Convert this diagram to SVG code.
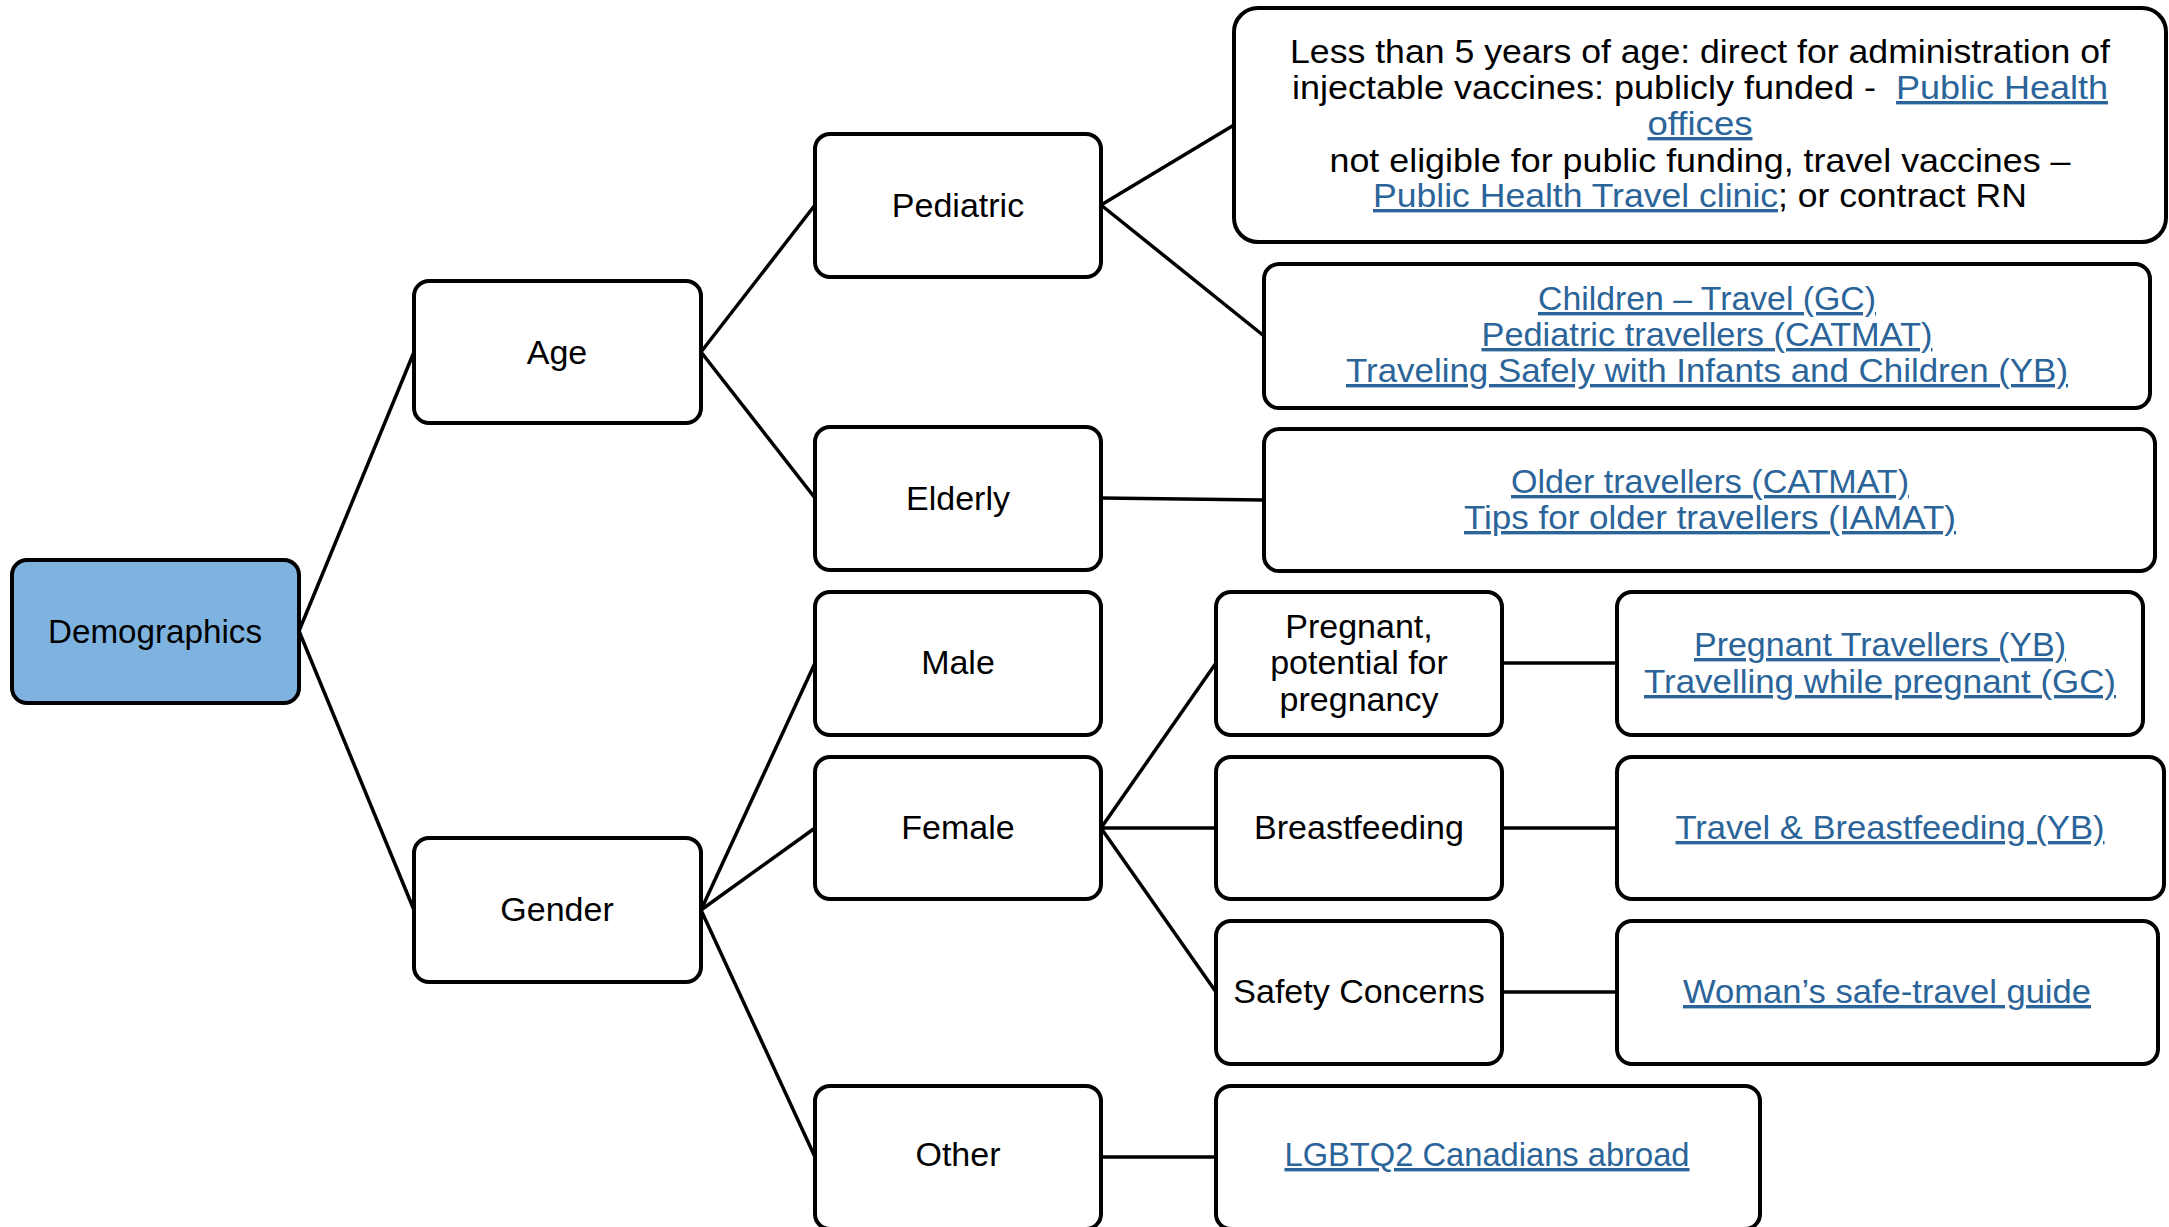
<svg xmlns="http://www.w3.org/2000/svg" width="2169" height="1227" viewBox="0 0 2169 1227">
<style>
.box{fill:#fff;stroke:#000;stroke-width:4}
.root{fill:#7EB3DF}
.t{font-family:"Liberation Sans",Arial,sans-serif;font-size:34px;fill:#000;text-anchor:middle}
.lk{fill:#2B6499;text-decoration:underline}
.c{stroke:#000;stroke-width:3.5;fill:none}
</style>
<rect width="2169" height="1227" fill="#fff"/>
<g id="connectors">
<line class="c" x1="299" y1="631" x2="414" y2="352"/>
<line class="c" x1="299" y1="631" x2="414" y2="910"/>
<line class="c" x1="701" y1="352" x2="815" y2="205"/>
<line class="c" x1="701" y1="352" x2="815" y2="498"/>
<line class="c" x1="1101" y1="205" x2="1234" y2="125"/>
<line class="c" x1="1101" y1="205" x2="1264" y2="336"/>
<line class="c" x1="1101" y1="498" x2="1264" y2="500"/>
<line class="c" x1="701" y1="910" x2="815" y2="663"/>
<line class="c" x1="701" y1="910" x2="815" y2="828"/>
<line class="c" x1="701" y1="910" x2="815" y2="1157"/>
<line class="c" x1="1101" y1="828" x2="1216" y2="663"/>
<line class="c" x1="1101" y1="828" x2="1216" y2="828"/>
<line class="c" x1="1101" y1="828" x2="1216" y2="992"/>
<line class="c" x1="1502" y1="663" x2="1617" y2="663"/>
<line class="c" x1="1502" y1="828" x2="1617" y2="828"/>
<line class="c" x1="1502" y1="992" x2="1617" y2="992"/>
<line class="c" x1="1101" y1="1157" x2="1216" y2="1157"/>
</g>
<g id="demographics">
<rect class="box root" x="12" y="560" width="287" height="143" rx="15"/>
<text class="t" x="155" y="643" textLength="214" lengthAdjust="spacingAndGlyphs">Demographics</text>
</g>
<g id="age">
<rect class="box" x="414" y="281" width="287" height="142" rx="15"/>
<text class="t" x="557" y="364">Age</text>
</g>
<g id="gender">
<rect class="box" x="414" y="838" width="287" height="144" rx="15"/>
<text class="t" x="557" y="921">Gender</text>
</g>
<g id="pediatric">
<rect class="box" x="815" y="134" width="286" height="143" rx="15"/>
<text class="t" x="958" y="217">Pediatric</text>
</g>
<g id="elderly">
<rect class="box" x="815" y="427" width="286" height="143" rx="15"/>
<text class="t" x="958" y="510">Elderly</text>
</g>
<g id="male">
<rect class="box" x="815" y="592" width="286" height="143" rx="15"/>
<text class="t" x="958" y="674">Male</text>
</g>
<g id="female">
<rect class="box" x="815" y="757" width="286" height="142" rx="15"/>
<text class="t" x="958" y="839">Female</text>
</g>
<g id="other">
<rect class="box" x="815" y="1086" width="286" height="143" rx="15"/>
<text class="t" x="958" y="1166">Other</text>
</g>
<g id="pediatric-info">
<rect class="box" x="1234" y="8" width="932" height="234" rx="24"/>
<text class="t" x="1700" y="63" textLength="820" lengthAdjust="spacingAndGlyphs">Less than 5 years of age: direct for administration of</text>
<text class="t" x="1700" y="99" xml:space="preserve" textLength="816" lengthAdjust="spacingAndGlyphs">injectable vaccines: publicly funded -  <tspan class="lk">Public Health</tspan></text>
<text class="t lk" x="1700" y="135" textLength="105" lengthAdjust="spacingAndGlyphs">offices</text>
<text class="t" x="1700" y="172" textLength="741" lengthAdjust="spacingAndGlyphs">not eligible for public funding, travel vaccines –</text>
<text class="t" x="1700" y="207" textLength="654" lengthAdjust="spacingAndGlyphs"><tspan class="lk">Public Health Travel clinic</tspan>; or contract RN</text>
</g>
<g id="pediatric-links">
<rect class="box" x="1264" y="264" width="886" height="144" rx="15"/>
<text class="t lk" x="1707" y="310" textLength="338" lengthAdjust="spacingAndGlyphs">Children – Travel (GC)</text>
<text class="t lk" x="1707" y="346" textLength="451" lengthAdjust="spacingAndGlyphs">Pediatric travellers (CATMAT)</text>
<text class="t lk" x="1707" y="382" textLength="722" lengthAdjust="spacingAndGlyphs">Traveling Safely with Infants and Children (YB)</text>
</g>
<g id="elderly-links">
<rect class="box" x="1264" y="429" width="891" height="142" rx="15"/>
<text class="t lk" x="1710" y="493" textLength="398" lengthAdjust="spacingAndGlyphs">Older travellers (CATMAT)</text>
<text class="t lk" x="1710" y="529" textLength="492" lengthAdjust="spacingAndGlyphs">Tips for older travellers (IAMAT)</text>
</g>
<g id="pregnant">
<rect class="box" x="1216" y="592" width="286" height="143" rx="15"/>
<text class="t" x="1359" y="638">Pregnant,</text>
<text class="t" x="1359" y="674">potential for</text>
<text class="t" x="1359" y="711">pregnancy</text>
</g>
<g id="breastfeeding">
<rect class="box" x="1216" y="757" width="286" height="142" rx="15"/>
<text class="t" x="1359" y="839">Breastfeeding</text>
</g>
<g id="safety">
<rect class="box" x="1216" y="921" width="286" height="143" rx="15"/>
<text class="t" x="1359" y="1003">Safety Concerns</text>
</g>
<g id="pregnant-links">
<rect class="box" x="1617" y="592" width="526" height="143" rx="15"/>
<text class="t lk" x="1880" y="656" textLength="372" lengthAdjust="spacingAndGlyphs">Pregnant Travellers (YB)</text>
<text class="t lk" x="1880" y="693" textLength="472" lengthAdjust="spacingAndGlyphs">Travelling while pregnant (GC)</text>
</g>
<g id="breastfeeding-links">
<rect class="box" x="1617" y="757" width="547" height="142" rx="15"/>
<text class="t lk" x="1890" y="839" textLength="429" lengthAdjust="spacingAndGlyphs">Travel &amp; Breastfeeding (YB)</text>
</g>
<g id="safety-links">
<rect class="box" x="1617" y="921" width="541" height="143" rx="15"/>
<text class="t lk" x="1887" y="1003" textLength="408" lengthAdjust="spacingAndGlyphs">Woman’s safe-travel guide</text>
</g>
<g id="other-links">
<rect class="box" x="1216" y="1086" width="544" height="143" rx="15"/>
<text class="t lk" x="1487" y="1166" textLength="405" lengthAdjust="spacingAndGlyphs">LGBTQ2 Canadians abroad</text>
</g>
</svg>
